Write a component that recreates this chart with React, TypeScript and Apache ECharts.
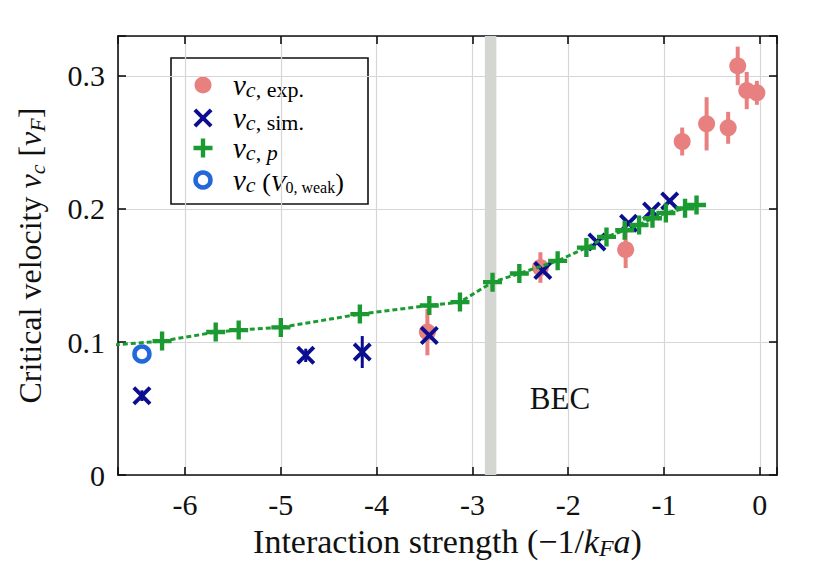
import React, { useEffect, useRef } from "react";
import * as echarts from "echarts";

// ---------- data ----------
const expX = [-3.47, -2.29, -1.4, -0.81, -0.555, -0.33, -0.23, -0.136, -0.03];
const expY = [0.1075, 0.156, 0.1694, 0.2507, 0.264, 0.261, 0.3075, 0.289, 0.2873];
const expErr = [0.0175, 0.0115, 0.0138, 0.0105, 0.02, 0.012, 0.0145, 0.014, 0.009];

const simX = [-6.45, -4.74, -4.15, -3.45, -2.265, -1.7, -1.37, -1.13, -0.94];
const simY = [0.0597, 0.09, 0.0925, 0.105, 0.1537, 0.1752, 0.1893, 0.1985, 0.206];
const simErr = [0.004, 0.005, 0.012, 0, 0, 0, 0, 0, 0];

const pX = [-6.24, -5.68, -5.44, -5.0, -4.175, -3.45, -3.13, -2.79, -2.51, -2.11, -1.81, -1.6, -1.41, -1.26, -1.12, -0.98, -0.78, -0.66];
const pY = [0.1007, 0.1075, 0.109, 0.111, 0.121, 0.1275, 0.13, 0.145, 0.1515, 0.161, 0.171, 0.179, 0.184, 0.188, 0.193, 0.197, 0.2005, 0.203];
// line continues past the left edge of the frame
const pLineLeadX = [-6.9];
const pLineLeadY = [0.097];

const weakX = [-6.45];
const weakY = [0.091];

const becBand = [-2.87, -2.75];

const xTicks = [-6, -5, -4, -3, -2, -1, 0];
const yTicks = [0, 0.1, 0.2, 0.3];

// ---------- style ----------
const FONT = "Liberation Serif";
const PINK = "#e88080";
const NAVY = "#0b0e8f";
const GREEN = "#1a9a30";
const RING = "#2268d8";
const BAND = "#d4d6d2";

const T = 1.15;
const PLUS_PTS = [[5 - T, 0], [5 + T, 0], [5 + T, 5 - T], [10, 5 - T], [10, 5 + T], [5 + T, 5 + T], [5 + T, 10], [5 - T, 10], [5 - T, 5 + T], [0, 5 + T], [0, 5 - T], [5 - T, 5 - T]];
const A = 1.45;
const CROSS_PTS = [[0, A], [A, 0], [5, 5 - A], [10 - A, 0], [10, A], [5 + A, 5], [10, 10 - A], [10 - A, 10], [5, 5 + A], [A, 10], [0, 10 - A], [5 - A, 5]];
const toPath = (pts: number[][]) =>
  "path://" + pts.map((p, i) => (i === 0 ? "M" : "L") + p[0] + "," + p[1]).join("") + "Z";
const place = (pts: number[][], cx: number, cy: number, s: number) =>
  pts.map((p) => [cx + ((p[0] - 5) * s) / 10, cy + ((p[1] - 5) * s) / 10]);

const zip = (a: number[], b: number[]) => a.map((v, i) => [v, b[i]]);
const zip3 = (a: number[], b: number[], c: number[]) => a.map((v, i) => [v, b[i], c[i]]);

const isTick = (v: number, arr: number[]) => arr.some((t) => Math.abs(t - v) < 1e-6);

const richBase = (size: number) => ({
  t: { fontFamily: FONT, fontSize: size, lineHeight: size + 4, color: "#111" },
  i: { fontFamily: FONT, fontSize: size, lineHeight: size + 4, fontStyle: "italic", color: "#111" },
  s: { fontFamily: FONT, fontSize: Math.round(size * 0.7), lineHeight: Math.round(size * 0.6), fontStyle: "italic", verticalAlign: "bottom", color: "#111" },
});

function errorBar(color: number | string, width: number) {
  return (params: any, api: any) => {
    const x = api.value(0);
    const y = api.value(1);
    const e = api.value(2);
    if (!e) return null;
    const p1 = api.coord([x, y - e]);
    const p2 = api.coord([x, y + e]);
    return {
      type: "line",
      shape: { x1: p1[0], y1: p1[1], x2: p2[0], y2: p2[1] },
      style: { stroke: color, lineWidth: width },
    };
  };
}

export default function App() {
  const ref = useRef<HTMLDivElement>(null);
  useEffect(() => {
    document.body.style.margin = "0";
    const chart = echarts.init(ref.current!, null, { renderer: "svg" });

    const legRich = {
      i: { fontFamily: FONT, fontSize: 29, lineHeight: 30, fontStyle: "italic", color: "#111" },
      si: { fontFamily: FONT, fontSize: 22, lineHeight: 17, fontStyle: "italic", verticalAlign: "bottom", color: "#111" },
      sr: { fontFamily: FONT, fontSize: 22, lineHeight: 17, verticalAlign: "bottom", color: "#111" },
      sp: { fontFamily: FONT, fontSize: 26, lineHeight: 23, verticalAlign: "bottom", color: "#111" },
      sv: { fontFamily: FONT, fontSize: 24, lineHeight: 21, fontStyle: "italic", verticalAlign: "bottom", color: "#111" },
      ss: { fontFamily: FONT, fontSize: 16, lineHeight: 11, verticalAlign: "bottom", color: "#111" },
    };
    const legX = 203;
    const textX = 233;
    const rows = [85, 118, 148, 180];
    const legendTexts = [
      "{i|v}{si|c}{sr|, exp.}",
      "{i|v}{si|c}{sr|, sim.}",
      "{i|v}{si|c}{sr|, }{si|p}",
      "{i|v}{si|c}{sp| (}{sv|V}{ss|0, weak}{sp|)}",
    ];

    const axisCommon = {
      axisLine: { onZero: false, lineStyle: { color: "#111", width: 1.6 } },
      axisTick: { inside: true, length: 8, lineStyle: { color: "#111", width: 1.6 } },
    };

    const option: any = {
      animation: false,
      backgroundColor: "#fff",
      grid: { left: 118, right: 55, top: 36, bottom: 86, containLabel: false },
      xAxis: [
        {
          type: "value",
          min: -6.7,
          max: 0.18,
          minInterval: 1,
          maxInterval: 1,
          splitNumber: 7,
          position: "bottom",
          name: "{t|Interaction strength (−1/}{i|k}{s|F}{i|a}{t|)}",
          nameLocation: "middle",
          nameGap: 46,
          nameTextStyle: { rich: richBase(34) },
          ...axisCommon,
          axisLabel: {
            margin: 14,
            fontFamily: FONT,
            fontSize: 30,
            color: "#111",
            formatter: (v: number) => (isTick(v, xTicks) ? String(Math.round(v)) : ""),
          },
          splitLine: { show: true, lineStyle: { color: "#d6d6d6", width: 1.2 } },
        },
        {
          type: "value",
          min: -6.7,
          max: 0.18,
          minInterval: 1,
          maxInterval: 1,
          splitNumber: 7,
          position: "top",
          ...axisCommon,
          axisLabel: { show: false },
          splitLine: { show: false },
        },
      ],
      yAxis: [
        {
          type: "value",
          min: 0,
          max: 0.33,
          interval: 0.1,
          position: "left",
          name: "{t|Critical velocity }{i|v}{s|c}{t| [}{i|v}{s|F}{t|]}",
          nameLocation: "middle",
          nameGap: 70,
          nameTextStyle: { rich: richBase(32) },
          ...axisCommon,
          axisLabel: {
            margin: 13,
            fontFamily: FONT,
            fontSize: 30,
            color: "#111",
            formatter: (v: number) => (isTick(v, yTicks) ? (v === 0 ? "0" : v.toFixed(1)) : ""),
          },
          splitLine: { show: true, lineStyle: { color: "#d6d6d6", width: 1.2 } },
        },
        {
          type: "value",
          min: 0,
          max: 0.33,
          interval: 0.1,
          position: "right",
          ...axisCommon,
          axisLabel: { show: false },
          splitLine: { show: false },
        },
      ],
      series: [
        {
          name: "BEC band",
          type: "line",
          data: [],
          z: 1,
          silent: true,
          markArea: {
            silent: true,
            itemStyle: { color: BAND, opacity: 1 },
            data: [[{ xAxis: becBand[0] }, { xAxis: becBand[1] }]],
          },
        },
        {
          name: "exp err",
          type: "custom",
          renderItem: errorBar(PINK, 4),
          data: zip3(expX, expY, expErr),
          encode: { x: 0, y: 1 },
          z: 3,
          silent: true,
        },
        {
          name: "vc,exp.",
          type: "scatter",
          data: zip(expX, expY),
          symbol: "circle",
          symbolSize: 17,
          itemStyle: { color: PINK, opacity: 1 },
          z: 4,
        },
        {
          name: "sim err",
          type: "custom",
          renderItem: errorBar(NAVY, 3),
          data: zip3(simX, simY, simErr),
          encode: { x: 0, y: 1 },
          z: 5,
          silent: true,
        },
        {
          name: "vc,sim.",
          type: "scatter",
          data: zip(simX, simY),
          symbol: toPath(CROSS_PTS),
          symbolSize: 19,
          itemStyle: { color: NAVY, opacity: 1 },
          z: 6,
        },
        {
          name: "vc,p line",
          type: "line",
          data: zip(pLineLeadX.concat(pX), pLineLeadY.concat(pY)),
          showSymbol: false,
          symbol: "none",
          clip: true,
          lineStyle: { color: GREEN, width: 3, type: [5, 3] },
          z: 7,
        },
        {
          name: "vc,p",
          type: "scatter",
          data: zip(pX, pY),
          symbol: toPath(PLUS_PTS),
          symbolSize: 19,
          itemStyle: { color: GREEN, opacity: 1 },
          z: 8,
        },
        {
          name: "vc(V0,weak)",
          type: "scatter",
          data: zip(weakX, weakY),
          symbol: "circle",
          symbolSize: 15,
          itemStyle: { color: "#fff", borderColor: RING, borderWidth: 4.5, opacity: 1 },
          z: 9,
        },
      ],
      graphic: [
        {
          type: "text",
          x: 560,
          y: 398,
          z: 20,
          style: { text: "BEC", fontFamily: FONT, fontSize: 31, fill: "#111", align: "center", verticalAlign: "middle" },
        },
        {
          type: "group",
          z: 30,
          children: [
            {
              type: "rect",
              shape: { x: 171, y: 58, width: 197, height: 146 },
              style: { fill: "#fff", stroke: "#111", lineWidth: 1.6 },
            },
            { type: "circle", shape: { cx: legX, cy: rows[0], r: 8.5 }, style: { fill: PINK } },
            { type: "polygon", shape: { points: place(CROSS_PTS, legX, rows[1], 19) }, style: { fill: NAVY } },
            { type: "polygon", shape: { points: place(PLUS_PTS, legX, rows[2], 19) }, style: { fill: GREEN } },
            { type: "circle", shape: { cx: legX, cy: rows[3], r: 7.5 }, style: { fill: "#fff", stroke: RING, lineWidth: 4.5 } },
            ...legendTexts.map((t, k) => ({
              type: "text",
              x: textX,
              y: rows[k],
              style: { text: t, rich: legRich, verticalAlign: "middle", align: "left" },
            })),
          ],
        },
      ],
    };
    chart.setOption(option);
    return () => chart.dispose();
  }, []);
  return <div ref={ref} style={{ width: 832, height: 565 }} />;
}
